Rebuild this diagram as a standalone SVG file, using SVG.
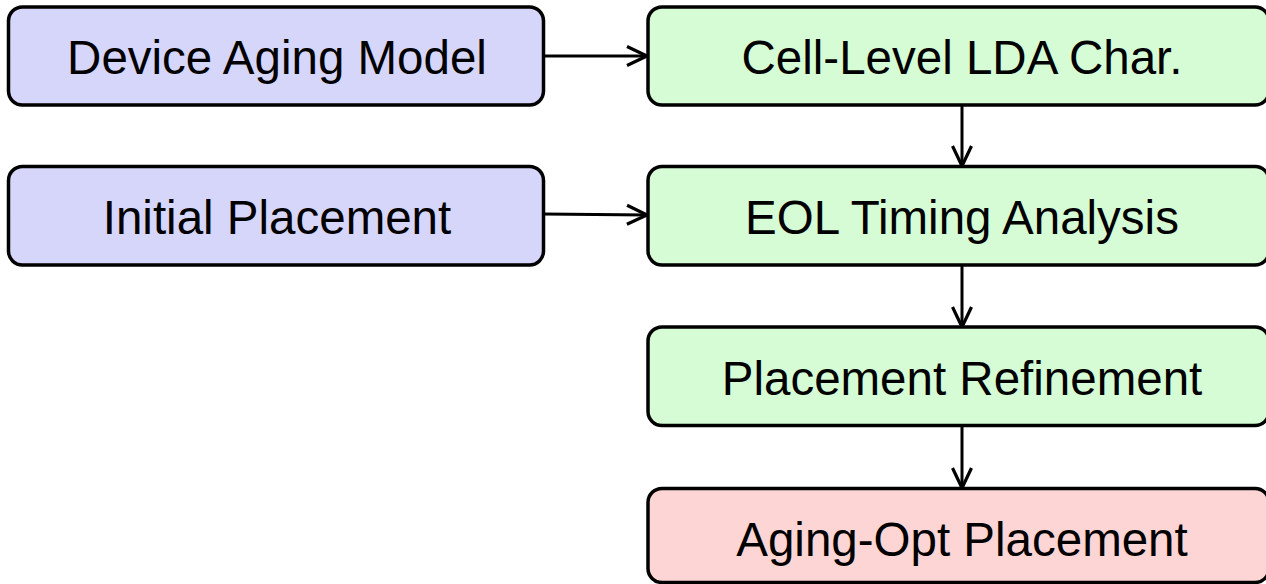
<svg xmlns="http://www.w3.org/2000/svg" width="1266" height="584" viewBox="0 0 1266 584">
  <style>
    .box { stroke: #000; stroke-width: 3.5; }
    .input { fill: #d6d6fb; }
    .step { fill: #d5fcd5; }
    .result { fill: #fdd5d5; }
    .label { font-family: "Liberation Sans", Arial, sans-serif; font-size: 47.5px; fill: #000; text-anchor: middle; }
    .edge { fill: none; stroke: #000; stroke-width: 3; marker-end: url(#arrow); }
  </style>
  <defs>
    <marker id="arrow" markerUnits="userSpaceOnUse" markerWidth="26" markerHeight="26" viewBox="0 0 26 26" refX="22" refY="13" orient="auto">
      <path d="M2,3.5 L22,13 L2,22.5" fill="none" stroke="#000" stroke-width="3.2"/>
    </marker>
  </defs>
  <rect width="1266" height="584" fill="#fff"/>

  <g id="connectors">
    <path class="edge" d="M543,56 H647"/>
    <path class="edge" d="M543,214 L647,215"/>
    <path class="edge" d="M962,105 V166"/>
    <path class="edge" d="M962,265 V327"/>
    <path class="edge" d="M962,426 V488"/>
  </g>

  <g id="device-aging-model">
    <rect class="box input" x="8.5" y="7" width="535" height="98" rx="14"/>
    <text class="label" x="277" y="74">Device Aging Model</text>
  </g>
  <g id="initial-placement">
    <rect class="box input" x="8.5" y="166.5" width="535" height="98.5" rx="14"/>
    <text class="label" x="277" y="233.5">Initial Placement</text>
  </g>
  <g id="cell-level-lda">
    <rect class="box step" x="648" y="7" width="621" height="98" rx="14"/>
    <text class="label" x="962" y="74">Cell-Level LDA Char.</text>
  </g>
  <g id="eol-timing">
    <rect class="box step" x="648" y="166.5" width="621" height="98.5" rx="14"/>
    <text class="label" x="962" y="233.5">EOL Timing Analysis</text>
  </g>
  <g id="placement-refinement">
    <rect class="box step" x="648" y="327" width="621" height="98.5" rx="14"/>
    <text class="label" x="962" y="394.5">Placement Refinement</text>
  </g>
  <g id="aging-opt-placement">
    <rect class="box result" x="648" y="488.5" width="621" height="94" rx="14"/>
    <text class="label" x="962" y="556">Aging-Opt Placement</text>
  </g>
</svg>
